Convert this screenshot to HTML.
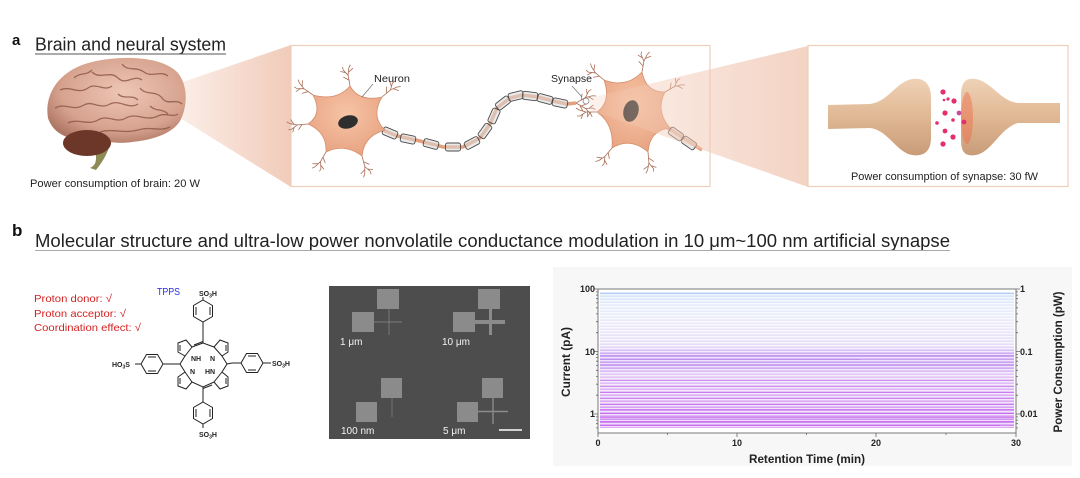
<!DOCTYPE html>
<html><head><meta charset="utf-8"><style>
html,body{margin:0;padding:0;background:#fff;}
svg{display:block;}
text{font-family:"Liberation Sans",Arial,sans-serif;}
</style></head><body>
<svg width="1080" height="478" viewBox="0 0 1080 478" xmlns="http://www.w3.org/2000/svg">
<defs>
<linearGradient id="fun1" x1="0" y1="0" x2="1" y2="0"><stop offset="0" stop-color="#fbeee8"/><stop offset="1" stop-color="#f1cbb9"/></linearGradient>
<linearGradient id="fun2" x1="0" y1="0" x2="1" y2="0"><stop offset="0" stop-color="#f3c9b4" stop-opacity="0.25"/><stop offset="1" stop-color="#f1cbb9" stop-opacity="0.85"/></linearGradient>
<radialGradient id="brainG" cx="0.55" cy="0.4" r="0.65"><stop offset="0" stop-color="#eec6b6"/><stop offset="0.7" stop-color="#d6a28e"/><stop offset="1" stop-color="#ae7664"/></radialGradient>
<radialGradient id="cellG" cx="0.5" cy="0.4" r="0.6"><stop offset="0" stop-color="#f6c4a6"/><stop offset="1" stop-color="#e8a482"/></radialGradient>
<linearGradient id="synG" x1="0" y1="0" x2="0" y2="1"><stop offset="0" stop-color="#efd2b6"/><stop offset="0.5" stop-color="#e0b894"/><stop offset="1" stop-color="#c99c78"/></linearGradient>
<linearGradient id="lineG" x1="0" y1="292" x2="0" y2="428" gradientUnits="userSpaceOnUse">
<stop offset="0" stop-color="#d0e0f8"/><stop offset="0.1" stop-color="#e6eefb"/><stop offset="0.25" stop-color="#ece9fb"/><stop offset="0.4" stop-color="#e6dcf9"/><stop offset="0.46" stop-color="#c8a4f2"/><stop offset="0.55" stop-color="#caa0f2"/><stop offset="0.6" stop-color="#e2c8f7"/><stop offset="0.75" stop-color="#dcb0f5"/><stop offset="0.9" stop-color="#d49cf2"/><stop offset="1" stop-color="#cf88f0"/></linearGradient>
<pattern id="stripes" width="4" height="3" patternUnits="userSpaceOnUse"><rect width="4" height="1.4" fill="#fff" fill-opacity="0.7"/></pattern>
<g id="den" fill="none" stroke="#a86e56" stroke-width="0.8"><path d="M0,0 L11,0 M11,0 L17,-4 M11,0 L18,2 M6,0 L10,-5 M14,-2 L16,-7 M14,1 L17,6 M17,-4 L20,-4 M18,2 L21,4"/></g>
<g id="seg"><rect x="-7.5" y="-4" width="15" height="8" rx="2" fill="#d8d8d8" fill-opacity="0.55" stroke="#4a4a4a" stroke-width="0.9"/></g>
</defs>

<!-- ===== Panel a ===== -->
<text x="12" y="45" font-size="15" font-weight="bold" fill="#111">a</text>
<text x="35" y="50.5" font-size="18" fill="#222" textLength="191" lengthAdjust="spacingAndGlyphs">Brain and neural system</text>
<line x1="35" y1="54" x2="226" y2="54" stroke="#555" stroke-width="1"/>

<polygon points="180,83 291,45 291,187 180,118" fill="url(#fun1)"/>

<!-- brain -->
<path d="M48,118 C44,95 58,70 92,62 C122,55 162,56 178,73 C189,87 187,108 180,121 C172,134 152,140 132,142 C112,145 100,139 86,139 C70,141 53,134 48,118 Z" fill="url(#brainG)"/>
<path d="M95,150 C98,163 94,166 90,168 L96,170 C104,160 108,152 110,144 Z" fill="#8e8a56"/>
<ellipse cx="87" cy="143" rx="24" ry="13" fill="#6c3628"/>
<g fill="none" stroke="#8b5544" stroke-width="1.3" stroke-opacity="0.8">
<path d="M60,90 C70,85 78,95 88,88 C96,82 104,92 112,86"/>
<path d="M55,108 C66,102 72,112 84,105 C92,100 100,110 110,104 C120,99 128,110 138,104"/>
<path d="M68,123 C78,118 88,126 98,120 C108,114 116,124 126,118 C136,112 146,122 158,116 C166,112 172,118 178,114"/>
<path d="M92,72 C100,80 110,70 118,78 C126,86 134,74 142,80"/>
<path d="M122,64 C128,72 136,66 144,72 C152,78 160,70 168,76"/>
<path d="M140,88 C146,96 156,90 162,98 C168,106 176,98 182,104"/>
<path d="M118,94 C124,100 132,94 138,100"/>
<path d="M100,132 C112,128 124,134 138,130 C150,126 160,132 170,127"/>
<path d="M74,78 C80,72 86,76 92,70"/>
<path d="M150,106 C156,112 162,108 168,114"/>
</g>
<text x="30" y="187" font-size="11" fill="#222" textLength="170" lengthAdjust="spacingAndGlyphs">Power consumption of brain: 20 W</text>

<rect x="291" y="45.5" width="419" height="141" fill="#fff" stroke="#f0cdbb" stroke-width="1.2"/>

<!-- neuron 1 axon -->
<path d="M383,130 L397,136 L420,141 L443,147 L463,147 L480,138 L490,124 L497,108 L510,98 L522,95 L538,97 L553,101 L567,104 L576,103" fill="none" stroke="#e4a07e" stroke-width="3.5"/>
<use href="#seg" transform="translate(390,133) rotate(23)"/>
<use href="#seg" transform="translate(408,139) rotate(12)"/>
<use href="#seg" transform="translate(431,144) rotate(15)"/>
<use href="#seg" transform="translate(453,147) rotate(0)"/>
<use href="#seg" transform="translate(472,143) rotate(-28)"/>
<use href="#seg" transform="translate(485,131) rotate(-54)"/>
<use href="#seg" transform="translate(494,116) rotate(-66)"/>
<use href="#seg" transform="translate(503,103) rotate(-38)"/>
<use href="#seg" transform="translate(516,96) rotate(-14)"/>
<use href="#seg" transform="translate(530,96) rotate(7)"/>
<use href="#seg" transform="translate(545,99) rotate(15)"/>
<use href="#seg" transform="translate(560,103) rotate(12)"/>
<use href="#den" transform="translate(576,103) rotate(30)"/>
<use href="#den" transform="translate(576,103) rotate(-30)"/>
<circle cx="586" cy="101" r="3" fill="#fff" stroke="#777" stroke-width="0.7"/>

<use href="#den" transform="translate(313,95) rotate(-145)"/>
<use href="#den" transform="translate(350,86) rotate(-100)"/>
<use href="#den" transform="translate(382,97) rotate(-40)"/>
<use href="#den" transform="translate(308,124) rotate(175)"/>
<use href="#den" transform="translate(326,152) rotate(120)"/>
<use href="#den" transform="translate(362,156) rotate(75)"/>
<path d="M313,95 Q336.6,101.5 350,86 Q359,102.2 382,97 Q370.4,116.5 385,130 Q363.9,135.7 362,156 Q344.7,142.8 326,152 Q327.2,132.4 308,124 Q322.9,113.9 313,95 Z" fill="url(#cellG)" stroke="#d48e6c" stroke-width="0.8"/>
<ellipse cx="348" cy="122" rx="10" ry="6.5" fill="#2e2e2e" transform="rotate(-15 348 122)"/>
<line x1="373" y1="84" x2="362" y2="97" stroke="#666" stroke-width="0.6"/>
<text x="374" y="82" font-size="10.5" fill="#222" textLength="36" lengthAdjust="spacingAndGlyphs">Neuron</text>
<line x1="572" y1="86" x2="582" y2="97" stroke="#666" stroke-width="0.6"/>
<text x="551" y="82" font-size="10.5" fill="#222" textLength="41" lengthAdjust="spacingAndGlyphs">Synapse</text>

<!-- neuron 2 -->
<use href="#den" transform="translate(604,80) rotate(-140)"/>
<use href="#den" transform="translate(642,72) rotate(-80)"/>
<use href="#den" transform="translate(665,92) rotate(-30)"/>
<use href="#den" transform="translate(597,112) rotate(180)"/>
<use href="#den" transform="translate(612,148) rotate(130)"/>
<use href="#den" transform="translate(648,152) rotate(85)"/>
<path d="M668,128 L702,150" stroke="#e4a07e" stroke-width="3.5"/>
<path d="M604,80 Q626.2,88.6 642,72 Q646,92.5 665,92 Q655.1,110.7 670,128 Q649.5,130.2 648,152 Q630.7,136.7 612,148 Q614.1,123.7 597,112 Q611.5,101.6 604,80 Z" fill="url(#cellG)" stroke="#d48e6c" stroke-width="0.8"/>
<ellipse cx="631" cy="111" rx="7.5" ry="11" fill="#2e2e2e" transform="rotate(15 631 111)"/>
<use href="#seg" transform="translate(676,134) rotate(35)"/>
<use href="#seg" transform="translate(689,143) rotate(35)"/>

<polygon points="590,98 808,46 808,187 590,110" fill="url(#fun2)"/>

<rect x="808" y="45.5" width="260" height="141" fill="#fff" stroke="#f0cdbb" stroke-width="1.2"/>
<path d="M828,105 L870,104 C888,102 896,82 912,79 C925,77 931,85 931,98 L931,138 C931,150 925,157 912,155 C896,152 888,130 870,128 L828,129 Z" fill="url(#synG)"/>
<path d="M1060,103 L1018,103 C1000,101 992,82 976,79 C963,77 961,85 961,98 L961,138 C961,150 963,157 976,155 C992,152 1000,128 1018,123 L1060,123 Z" fill="url(#synG)"/>
<ellipse cx="967" cy="118" rx="6" ry="26" fill="#f06848" fill-opacity="0.45"/>
<g fill="#e62e6c">
<circle cx="943" cy="92" r="2.6"/><circle cx="948" cy="99" r="1.6"/><circle cx="954" cy="101" r="2.6"/><circle cx="944" cy="100" r="1.3"/>
<circle cx="945" cy="113" r="2.6"/><circle cx="959" cy="113" r="2.4" fill="#c84a9a"/><circle cx="953" cy="120" r="1.8"/><circle cx="964" cy="122" r="2.4"/>
<circle cx="937" cy="123" r="1.8"/><circle cx="945" cy="131" r="2.4"/><circle cx="953" cy="137" r="2.6"/><circle cx="943" cy="144" r="2.6"/>
</g>
<text x="851" y="180" font-size="11" fill="#222" textLength="187" lengthAdjust="spacingAndGlyphs">Power consumption of synapse: 30 fW</text>

<!-- ===== Panel b ===== -->
<text x="12" y="236" font-size="17" font-weight="bold" fill="#111">b</text>
<text x="35" y="247" font-size="18" fill="#222" textLength="915" lengthAdjust="spacingAndGlyphs">Molecular structure and ultra-low power nonvolatile conductance modulation in 10 μm~100 nm artificial synapse</text>
<line x1="35" y1="250.5" x2="950" y2="250.5" stroke="#aaa" stroke-width="1"/>

<g font-size="10.5" fill="#d42222">
<text x="34" y="302" textLength="78" lengthAdjust="spacingAndGlyphs">Proton donor: √</text>
<text x="34" y="317" textLength="92" lengthAdjust="spacingAndGlyphs">Proton acceptor: √</text>
<text x="34" y="331" textLength="107" lengthAdjust="spacingAndGlyphs">Coordination effect: √</text>
</g>
<text x="157" y="295" font-size="10.5" fill="#2a2ae6" textLength="23" lengthAdjust="spacingAndGlyphs">TPPS</text>

<g fill="none" stroke="#222" stroke-width="1">
<polygon points="203,300 212.5,305.5 212.5,316.5 203,322 193.5,316.5 193.5,305.5"/>
<line x1="196" y1="307" x2="196" y2="315"/><line x1="210" y1="307" x2="210" y2="315"/>
<line x1="203" y1="300" x2="203" y2="297"/><line x1="203" y1="322" x2="203" y2="343"/>
<polygon points="203,402 212.5,407.5 212.5,418.5 203,424 193.5,418.5 193.5,407.5"/>
<line x1="196" y1="409" x2="196" y2="417"/><line x1="210" y1="409" x2="210" y2="417"/>
<line x1="203" y1="387" x2="203" y2="402"/><line x1="203" y1="424" x2="203" y2="428"/>
<polygon points="141,364 146.5,354.5 157.5,354.5 163,364 157.5,373.5 146.5,373.5"/>
<line x1="148" y1="357" x2="156" y2="357"/><line x1="148" y1="371" x2="156" y2="371"/>
<line x1="163" y1="364" x2="174" y2="364"/><line x1="141" y1="364" x2="135" y2="364"/>
<polygon points="241,363 246.5,353.5 257.5,353.5 263,363 257.5,372.5 246.5,372.5"/>
<line x1="248" y1="356" x2="256" y2="356"/><line x1="248" y1="370" x2="256" y2="370"/>
<line x1="232" y1="363" x2="241" y2="363"/><line x1="263" y1="363" x2="271" y2="363"/>
<path d="M203,343 L192,347 L186,340 L178,343 L178,352 L185,356 L180,364 L174,364 L180,364 L185,372 L178,377 L178,386 L186,389 L192,382 L203,387 L214,382 L220,389 L228,386 L228,377 L222,372 L227,364 L232,363 L227,364 L222,356 L228,352 L228,343 L220,340 L214,347 Z"/>
<line x1="192" y1="347" x2="185" y2="356"/><line x1="214" y1="347" x2="222" y2="356"/>
<line x1="185" y1="372" x2="192" y2="382"/><line x1="222" y1="372" x2="214" y2="382"/>
<line x1="180" y1="345" x2="180" y2="351"/><line x1="226" y1="345" x2="226" y2="351"/>
<line x1="180" y1="378" x2="180" y2="384"/><line x1="226" y1="378" x2="226" y2="384"/>
<line x1="194" y1="345" x2="203" y2="341.5"/><line x1="212" y1="385" x2="203" y2="388.5"/>
</g>
<g font-size="7" font-weight="bold" fill="#222">
<text x="191" y="361">NH</text><text x="210" y="361">N</text>
<text x="190" y="374">N</text><text x="205" y="374">HN</text>
<text x="199" y="296">SO<tspan font-size="5" dy="1.5">3</tspan><tspan dy="-1.5">H</tspan></text>
<text x="199" y="437">SO<tspan font-size="5" dy="1.5">3</tspan><tspan dy="-1.5">H</tspan></text>
<text x="112" y="367">HO<tspan font-size="5" dy="1.5">3</tspan><tspan dy="-1.5">S</tspan></text>
<text x="272" y="366">SO<tspan font-size="5" dy="1.5">3</tspan><tspan dy="-1.5">H</tspan></text>
</g>

<!-- SEM image -->
<rect x="329" y="286" width="201" height="153" fill="#4d4d4d"/>
<g fill="#8b8b8b">
<rect x="377" y="289" width="22" height="20"/><rect x="352" y="312" width="22" height="20"/>
<rect x="478" y="289" width="22" height="20"/><rect x="453" y="312" width="22" height="20"/>
<rect x="381" y="378" width="21" height="20"/><rect x="356" y="402" width="21" height="20"/>
<rect x="482" y="378" width="21" height="20"/><rect x="457" y="402" width="21" height="20"/>
<rect x="475" y="320" width="30" height="4"/><rect x="489" y="309" width="3" height="26"/>
</g>
<g stroke="#8b8b8b">
<line x1="374" y1="322" x2="402" y2="322" stroke-width="0.7"/><line x1="389" y1="309" x2="389" y2="335" stroke-width="0.7"/>
<line x1="392" y1="398" x2="392" y2="417" stroke-width="0.6"/>
<line x1="478" y1="411.5" x2="508" y2="411.5" stroke-width="1.4"/><line x1="493" y1="398" x2="493" y2="424" stroke-width="1.4"/>
</g>
<g font-size="10" fill="#f4f4f4">
<text x="340" y="345">1 μm</text><text x="442" y="345">10 μm</text>
<text x="341" y="434">100 nm</text><text x="443" y="434">5 μm</text>
</g>
<line x1="499" y1="430" x2="522" y2="430" stroke="#fff" stroke-width="1.6"/>

<!-- chart panel -->
<rect x="553" y="267" width="519" height="199" fill="#f7f7f7"/>
<rect x="598" y="289" width="418" height="144" fill="#fff"/>
<rect x="600" y="292" width="414" height="136" fill="url(#lineG)"/>
<rect x="600" y="292" width="414" height="136" fill="url(#stripes)"/>
<g stroke-width="1">
<line x1="600" y1="293.5" x2="1014" y2="293.5" stroke="#9cc0f0" stroke-opacity="0.6"/>
<line x1="600" y1="355.5" x2="1014" y2="355.5" stroke="#b888f0" stroke-opacity="0.7"/>
<line x1="600" y1="359.5" x2="860" y2="359.5" stroke="#b888f0" stroke-opacity="0.7"/>
<line x1="600" y1="364.5" x2="1014" y2="364.5" stroke="#c090f0" stroke-opacity="0.6"/>
<line x1="600" y1="380.5" x2="1014" y2="380.5" stroke="#c070f0" stroke-opacity="0.6"/>
<line x1="600" y1="386.5" x2="1014" y2="386.5" stroke="#c070f0" stroke-opacity="0.6"/>
<line x1="600" y1="392.5" x2="1014" y2="392.5" stroke="#c468f0" stroke-opacity="0.7"/>
<line x1="600" y1="398.5" x2="1014" y2="398.5" stroke="#c468f0" stroke-opacity="0.6"/>
<line x1="600" y1="404.5" x2="1014" y2="404.5" stroke="#c468f0" stroke-opacity="0.7"/>
<line x1="600" y1="409.5" x2="1014" y2="409.5" stroke="#c460f0" stroke-opacity="0.7"/>
<line x1="600" y1="413.5" x2="1014" y2="413.5" stroke="#c460f0" stroke-opacity="0.8"/>
<line x1="600" y1="417.5" x2="1014" y2="417.5" stroke="#c460f0" stroke-opacity="0.7"/>
<line x1="600" y1="421.5" x2="1014" y2="421.5" stroke="#c460f0" stroke-opacity="0.8"/>
<line x1="600" y1="425.5" x2="1000" y2="425.5" stroke="#c460f0" stroke-opacity="0.7"/>
</g>
<rect x="598" y="289" width="418" height="144" fill="none" stroke="#7a7a7a" stroke-width="1"/>
<g stroke="#666" stroke-width="0.8">
<path d="M598,289 h-4 M598,351.5 h-4 M598,414 h-4 M1016,289 h4 M1016,351.5 h4 M1016,414 h4"/>
<path d="M598,291.9 h-2 M598,295.1 h-2 M598,298.7 h-2 M598,302.9 h-2 M598,307.8 h-2 M598,313.9 h-2 M598,321.7 h-2 M598,332.7 h-2 M598,354.4 h-2 M598,357.6 h-2 M598,361.2 h-2 M598,365.4 h-2 M598,370.3 h-2 M598,376.4 h-2 M598,384.2 h-2 M598,395.2 h-2 M598,416.9 h-2 M598,420.1 h-2 M598,423.7 h-2 M598,427.9 h-2"/>
<path d="M1016,291.9 h2 M1016,295.1 h2 M1016,298.7 h2 M1016,302.9 h2 M1016,307.8 h2 M1016,313.9 h2 M1016,321.7 h2 M1016,332.7 h2 M1016,354.4 h2 M1016,357.6 h2 M1016,361.2 h2 M1016,365.4 h2 M1016,370.3 h2 M1016,376.4 h2 M1016,384.2 h2 M1016,395.2 h2 M1016,416.9 h2 M1016,420.1 h2 M1016,423.7 h2 M1016,427.9 h2"/>
<path d="M598,433 v4 M737,433 v4 M876,433 v4 M1016,433 v4 M667.5,433 v2 M806.5,433 v2 M946,433 v2"/>
</g>
<g font-size="9" font-weight="bold" fill="#222">
<text x="595" y="292" text-anchor="end">100</text>
<text x="595" y="355" text-anchor="end">10</text>
<text x="595" y="417" text-anchor="end">1</text>
<text x="1020" y="292">1</text>
<text x="1020" y="355">0.1</text>
<text x="1020" y="417">0.01</text>
<text x="598" y="446" text-anchor="middle">0</text>
<text x="737" y="446" text-anchor="middle">10</text>
<text x="876" y="446" text-anchor="middle">20</text>
<text x="1016" y="446" text-anchor="middle">30</text>
</g>
<text x="807" y="463" font-size="12" font-weight="bold" fill="#222" text-anchor="middle" textLength="116" lengthAdjust="spacingAndGlyphs">Retention Time (min)</text>
<text transform="translate(570,362) rotate(-90)" font-size="12" font-weight="bold" fill="#222" text-anchor="middle" textLength="70" lengthAdjust="spacingAndGlyphs">Current (pA)</text>
<text transform="translate(1062,362) rotate(-90)" font-size="12" font-weight="bold" fill="#222" text-anchor="middle" textLength="141" lengthAdjust="spacingAndGlyphs">Power Consumption (pW)</text>
</svg>
</body></html>
